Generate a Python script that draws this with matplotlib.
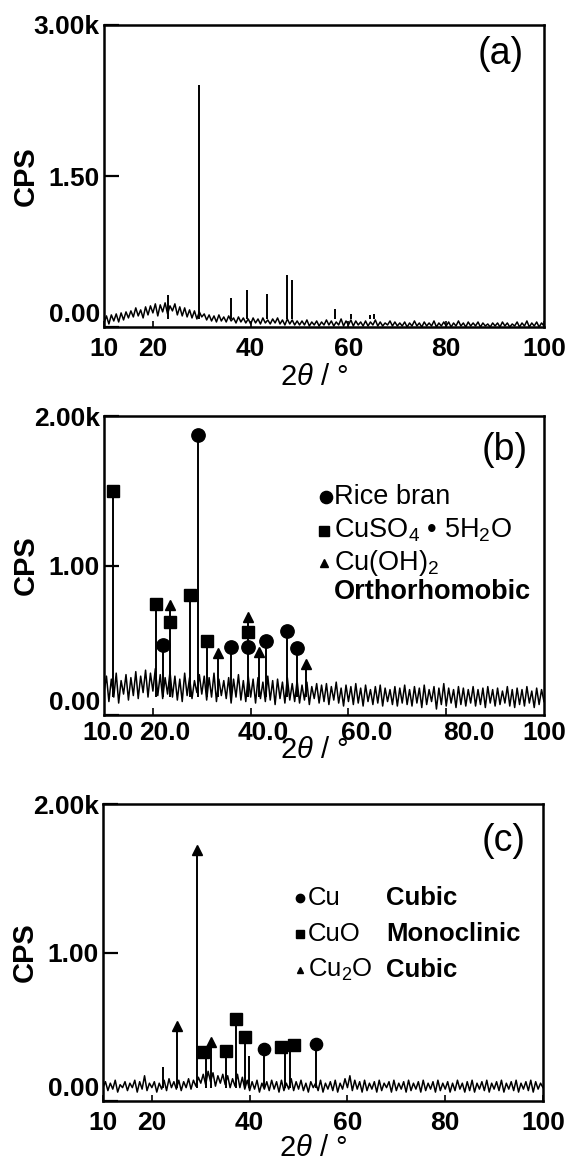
import numpy as np
import matplotlib
matplotlib.use('Agg')
import matplotlib.pyplot as plt

plt.rcParams['font.family'] = ['Liberation Sans', 'DejaVu Sans']
plt.rcParams['mathtext.fontset'] = 'custom'
plt.rcParams['mathtext.rm'] = 'Liberation Sans'
plt.rcParams['mathtext.it'] = 'Liberation Sans:italic'
plt.rcParams['mathtext.bf'] = 'Liberation Sans:bold'

# ---------------- data ----------------
angle_start = 10.0
angle_step = 0.5

# (a) background trace, 10..100 deg every 0.5 deg (cps)
bg_a = [40, 110, 30, 120, 60, 130, 50, 140, 70, 150,
        90, 160, 100, 190, 110, 170, 90, 200, 120, 210,
        140, 230, 110, 220, 150, 240, 130, 210, 160, 230,
        120, 200, 110, 190, 100, 170, 90, 160, 80, 150,
        100, 130, 70, 120, 60, 110, 50, 120, 60, 100,
        50, 110, 60, 90, 40, 100, 50, 90, 40, 80,
        30, 90, 40, 80, 30, 90, 40, 70, 30, 80,
        40, 90, 30, 70, 20, 80, 30, 70, 20, 60,
        20, 60, 20, 70, 10, 50, 20, 60, 10, 50,
        20, 70, 20, 60, 10, 50, 20, 80, 10, 60,
        20, 70, 10, 60, 20, 50, 10, 60, 10, 50,
        20, 70, 10, 50, 10, 40, 20, 60, 10, 50,
        10, 40, 10, 50, 0, 40, 10, 60, 10, 40,
        0, 50, 10, 40, 10, 60, 0, 40, 10, 50,
        10, 50, 0, 40, 10, 60, 10, 40, 0, 50,
        10, 40, 10, 50, 0, 40, 10, 30, 0, 40,
        10, 40, 0, 50, 10, 40, 0, 30, 10, 50,
        0, 40, 10, 60, 0, 40, 10, 50, 0, 40,
        10]
peak_a_x = [23.0, 29.4, 35.9, 39.3, 43.3, 47.4, 48.5, 57.3, 60.5, 64.5, 65.2]
peak_a_h = [320, 2400, 290, 370, 330, 520, 470, 180, 130, 120, 130]

# (b) background trace
bg_b = [150, 260, 90, 240, 120, 280, 80, 230, 140, 270,
        100, 250, 130, 290, 110, 260, 150, 300, 120, 280,
        160, 310, 130, 270, 110, 250, 140, 290, 120, 260,
        100, 240, 90, 280, 130, 250, 110, 230, 150, 270,
        140, 260, 100, 250, 120, 280, 90, 240, 130, 230,
        110, 250, 80, 240, 120, 270, 100, 230, 90, 260,
        120, 240, 80, 250, 110, 220, 90, 260, 100, 230,
        70, 240, 110, 220, 80, 250, 100, 210, 90, 230,
        80, 200, 100, 220, 70, 190, 110, 210, 80, 200,
        90, 210, 70, 190, 100, 220, 80, 180, 60, 200,
        90, 190, 70, 210, 80, 180, 60, 200, 90, 170,
        70, 190, 80, 200, 60, 180, 90, 170, 70, 190,
        60, 180, 80, 200, 70, 170, 60, 190, 80, 180,
        50, 200, 70, 170, 90, 190, 40, 180, 70, 210,
        60, 180, 80, 170, 50, 190, 70, 180, 60, 170,
        80, 190, 60, 170, 70, 180, 50, 190, 80, 170,
        60, 180, 70, 160, 80, 190, 60, 170, 50, 180,
        70, 170, 60, 190, 80, 160, 50, 180, 70, 170,
        90]
peak_b_x = [11.9, 20.6, 22.1, 23.5, 27.6, 29.3, 31.0, 33.3, 35.9, 39.5, 41.8, 43.2, 47.4, 49.4, 51.4]
peak_b_h = [1500, 742, 468, 736, 803, 1873, 497, 415, 455, 655, 420, 493, 560, 447, 340]
rice_x = [22.1, 29.3, 35.9, 39.5, 43.2, 47.4, 49.4]
rice_y = [468, 1873, 455, 455, 493, 560, 447]
cuso4_x = [11.9, 20.6, 23.5, 27.6, 31.0, 39.5]
cuso4_y = [1500, 742, 624, 803, 497, 555]
cuoh2_x = [23.5, 33.3, 39.5, 41.8, 51.4]
cuoh2_y = [736, 415, 655, 420, 340]

# (c) background trace
bg_c = [90, 130, 70, 120, 80, 140, 60, 110, 90, 130,
        70, 120, 90, 140, 60, 130, 80, 170, 70, 120,
        90, 130, 60, 120, 80, 140, 70, 150, 90, 130,
        80, 140, 70, 130, 90, 150, 80, 140, 100, 160,
        120, 180, 110, 200, 130, 190, 100, 170, 120, 180,
        110, 170, 90, 150, 100, 180, 90, 160, 80, 140,
        70, 130, 80, 140, 60, 120, 80, 130, 70, 140,
        80, 130, 60, 140, 70, 120, 80, 150, 70, 130,
        80, 140, 70, 120, 60, 130, 90, 120, 70, 140,
        60, 120, 80, 130, 70, 140, 60, 120, 80, 150,
        90, 170, 70, 140, 80, 130, 60, 140, 70, 120,
        80, 130, 60, 140, 70, 120, 90, 130, 60, 140,
        70, 120, 80, 130, 60, 140, 70, 120, 80, 130,
        60, 140, 70, 120, 80, 130, 60, 140, 70, 120,
        80, 130, 60, 120, 70, 140, 80, 120, 60, 130,
        70, 140, 60, 120, 80, 130, 70, 140, 60, 120,
        80, 130, 70, 140, 60, 120, 80, 130, 70, 140,
        60, 120, 80, 130, 70, 140, 60, 130, 80, 120,
        90]
peak_c_x = [22.3, 25.1, 29.2, 31.0, 32.1, 35.2, 37.2, 39.0, 39.8, 43.0, 47.2, 48.3, 53.5]
peak_c_h = [230, 480, 1687, 300, 400, 340, 553, 433, 300, 353, 330, 340, 387]
cu_x = [43.0, 53.5]
cu_y = [353, 387]
cuo_x = [30.4, 35.2, 37.2, 39.0, 46.4, 49.1]
cuo_y = [327, 340, 553, 433, 367, 380]
cu2o_x = [25.1, 29.2, 32.1]
cu2o_y = [507, 1687, 400]

x_ticks = [10, 20, 40, 60, 80, 100]
x_labels_ac = ['10', '20', '40', '60', '80', '100']
x_labels_b = ['10.0', '20.0', '40.0', '60.0', '80.0', '100']
# where the (b) labels sit along the axis in the original print
x_label_pos_b = [10.8, 22.5, 42.6, 63.7, 84.6, 100]

# ---------------- figure ----------------
W, H = 569, 1160
fig = plt.figure(figsize=(W / 100, H / 100), dpi=100)

def rect(l, r, t, b):
    return [l / W, 1 - b / H, (r - l) / W, (b - t) / H]

ax_a = fig.add_axes(rect(104, 544, 25, 327))
ax_b = fig.add_axes(rect(104, 544, 416, 715))
ax_c = fig.add_axes(rect(103, 543, 804, 1101))

TFS = 19

def style(ax, ymax, yticks, ylabels, xlabels, xlab_y, label_pos=None, xpad=7):
    ax.set_xlim(10, 100)
    ax.set_ylim(0, ymax)
    if label_pos is None:
        ax.set_xticks(x_ticks)
        ax.set_xticklabels(xlabels, fontsize=TFS, fontweight='bold')
        ax.tick_params(axis='x', which='major', direction='in', length=4, width=1.2, pad=xpad)
    else:
        ax.set_xticks(label_pos)
        ax.set_xticklabels(xlabels, fontsize=TFS, fontweight='bold')
        ax.set_xticks(x_ticks[1:-1], minor=True)
        ax.tick_params(axis='x', which='major', direction='in', length=0, pad=xpad)
        ax.tick_params(axis='x', which='minor', direction='in', length=5, width=1.2)
    ax.set_yticks(yticks)
    ax.set_yticklabels(ylabels, fontsize=TFS, fontweight='bold')
    ax.get_yticklabels()[0].set_va('bottom')
    ax.tick_params(axis='y', direction='in', length=11, width=1.6, pad=3)
    for s in ax.spines.values():
        s.set_linewidth(1.8)
    ax.set_ylabel('CPS', fontsize=21, fontweight='bold')
    ax.yaxis.label.set_va('center')
    ax.yaxis.set_label_coords(-0.178, 0.5)
    ax.set_xlabel(r'2$\theta$ / °', fontsize=21)
    ax.xaxis.label.set_va('center')
    ax.xaxis.set_label_coords(0.477, xlab_y)

def angles(n):
    return angle_start + angle_step * np.arange(n)

LW = 1.1

# (a)
ax_a.plot(angles(len(bg_a)), bg_a, color='black', lw=LW)
ax_a.vlines(peak_a_x, 80, peak_a_h, color='black', lw=1.4)
style(ax_a, 3000, [0, 1500, 3000], ['0.00', '1.50', '3.00k'], x_labels_ac, -0.166)
ax_a.text(0.902, 0.905, '(a)', transform=ax_a.transAxes, ha='center', va='center', fontsize=27)

# (b)
ax_b.plot(angles(len(bg_b)), bg_b, color='black', lw=LW)
ax_b.vlines(peak_b_x, 120, peak_b_h, color='black', lw=1.4)
ax_b.plot(rice_x, rice_y, 'o', color='black', ms=9.6, ls='none')
ax_b.plot(cuso4_x, cuso4_y, 's', color='black', ms=8.2, ls='none')
ax_b.plot(cuoh2_x, cuoh2_y, '^', color='black', ms=7.5, ls='none')
style(ax_b, 2000, [0, 1000, 2000], ['0.00', '1.00', '2.00k'], x_labels_b, -0.118,
      x_label_pos_b, xpad=4)
ax_b.text(0.91, 0.887, '(b)', transform=ax_b.transAxes, ha='center', va='center', fontsize=27)
LFS = 19.5
ax_b.plot([0.505], [0.730], 'o', color='black', ms=8.8, transform=ax_b.transAxes)
ax_b.plot([0.500], [0.617], 's', color='black', ms=7.2, transform=ax_b.transAxes)
ax_b.plot([0.500], [0.507], '^', color='black', ms=5.5, transform=ax_b.transAxes)
ax_b.text(0.522, 0.730, 'Rice bran', transform=ax_b.transAxes, va='center', fontsize=LFS)
ax_b.text(0.522, 0.617, r'CuSO$_4$ • 5H$_2$O', transform=ax_b.transAxes, va='center', fontsize=LFS)
ax_b.text(0.522, 0.507, r'Cu(OH)$_2$', transform=ax_b.transAxes, va='center', fontsize=LFS)
ax_b.text(0.522, 0.410, 'Orthorhomobic', transform=ax_b.transAxes, va='center', fontsize=LFS,
          fontweight='bold')

# (c)
ax_c.plot(angles(len(bg_c)), bg_c, color='black', lw=LW)
ax_c.vlines(peak_c_x, 90, peak_c_h, color='black', lw=1.4)
ax_c.plot(cu_x, cu_y, 'o', color='black', ms=8.8, ls='none')
ax_c.plot(cuo_x, cuo_y, 's', color='black', ms=8, ls='none')
ax_c.plot(cu2o_x, cu2o_y, '^', color='black', ms=7.5, ls='none')
style(ax_c, 2000, [0, 1000, 2000], ['0.00', '1.00', '2.00k'], x_labels_ac, -0.158)
ax_c.text(0.911, 0.876, '(c)', transform=ax_c.transAxes, ha='center', va='center', fontsize=27)
CFS = 18.5
rows = [0.682, 0.562, 0.441]
ax_c.plot([0.448], [rows[0]], 'o', color='black', ms=6, transform=ax_c.transAxes)
ax_c.plot([0.448], [rows[1]], 's', color='black', ms=5.5, transform=ax_c.transAxes)
ax_c.plot([0.448], [rows[2]], '^', color='black', ms=4.5, transform=ax_c.transAxes)
for txt, ph, y in zip(['Cu', 'CuO', r'Cu$_2$O'], ['Cubic', 'Monoclinic', 'Cubic'], rows):
    ax_c.text(0.466, y, txt, transform=ax_c.transAxes, va='center', fontsize=CFS)
    ax_c.text(0.644, y, ph, transform=ax_c.transAxes, va='center', fontsize=CFS, fontweight='bold')

fig.savefig('out.png', dpi=100)
